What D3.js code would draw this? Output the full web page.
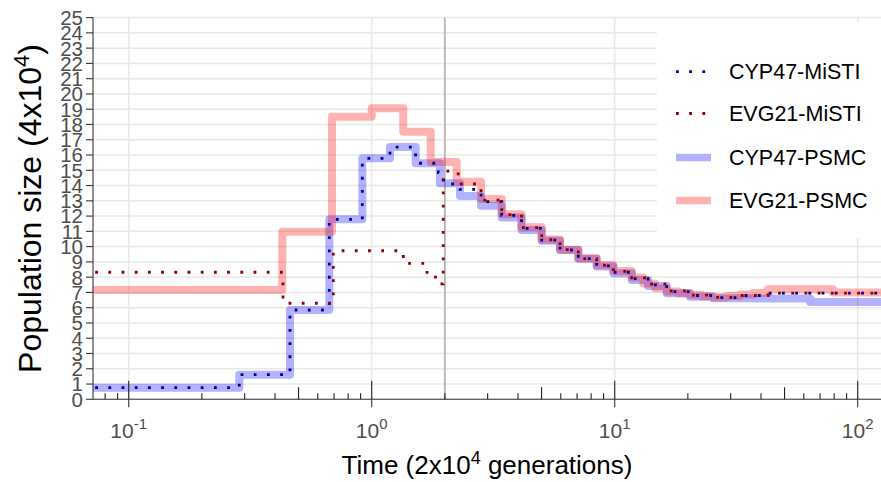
<!DOCTYPE html>
<html>
<head>
<meta charset="utf-8">
<script src="https://cdn.jsdelivr.net/npm/d3@7"></script>
<style>
  body { margin: 0; background: #fff; }
  svg { display: block; }
  text { font-family: "Liberation Sans", Arial, Helvetica, sans-serif; }
</style>
</head>
<body>
<svg id="chart" width="881" height="482"></svg>
<script>
// Axis ticks
const timeTickValues = [0.1, 1, 10, 100];
const timeTickExponents = ["-1", "0", "1", "2"];
const sizeTickValues = d3.range(0, 26);
const splitTime = 2;

// Series: step start times (2x10^4 generations) and population sizes (4x10^4)
const cyp47PsmcTime = [0.05, 0.285, 0.461, 0.669, 0.915, 1.189, 1.517, 1.908, 2.309, 2.818, 3.428, 4.135, 5.008, 5.956, 7.085, 8.43, 9.87, 11.75, 13.71, 16.37, 20.4, 25.38, 37.07, 63.65];
const cyp47PsmcSize = [0.76, 1.61, 5.85, 11.79, 15.78, 16.52, 15.46, 14.15, 13.32, 12.68, 11.91, 11.09, 10.39, 9.78, 9.2, 8.69, 8.26, 7.82, 7.42, 6.95, 6.72, 6.62, 6.6, 6.38];

const evg21PsmcTime = [0.05, 0.4286, 0.6865, 1.0, 1.349, 1.749, 2.238, 2.818, 3.428, 4.135, 5.008, 5.956, 7.085, 8.43, 9.87, 11.75, 13.12, 14.65, 16.37, 18.27, 20.4, 22.8, 25.38, 28.9, 32.78, 37.07, 42.74, 79.1];
const evg21PsmcSize = [7.16, 10.98, 18.51, 19.06, 17.53, 15.55, 14.25, 13.12, 12.12, 11.27, 10.46, 9.8, 9.24, 8.8, 8.4, 7.97, 7.58, 7.28, 7.06, 6.95, 6.84, 6.75, 6.69, 6.77, 6.86, 6.97, 7.2, 7.0];

const cyp47MistiTime = [0.05, 0.285, 0.461, 0.669, 0.915, 1.189, 1.517, 1.88, 1.97, 2.309, 2.818, 3.428, 4.135, 5.008, 5.956, 7.085, 8.43, 9.87, 11.75, 13.71, 16.37, 20.4, 25.38, 32.78, 42.74];
const cyp47MistiSize = [0.76, 1.61, 5.85, 11.79, 15.78, 16.52, 15.46, 14.85, 14.1, 13.75, 12.95, 12.05, 11.2, 10.42, 9.78, 9.22, 8.74, 8.32, 7.9, 7.5, 7.05, 6.8, 6.66, 6.8, 6.95];

const evg21MistiTime = [0.05, 0.4315, 0.695, 1.349, 1.69, 1.83, 1.97, 2.27, 2.818, 3.428, 4.135, 5.008, 5.956, 7.085, 8.43, 9.87, 11.75, 13.71, 16.37, 20.4, 25.38, 32.78, 42.74];
const evg21MistiSize = [8.32, 6.29, 9.73, 8.9, 8.15, 7.56, 14.95, 14.1, 13.05, 12.1, 11.25, 10.45, 9.8, 9.22, 8.78, 8.38, 7.95, 7.55, 7.1, 6.82, 6.68, 6.8, 6.95];

const seriesNames = ["CYP47-MiSTI", "EVG21-MiSTI", "CYP47-PSMC", "EVG21-PSMC"];

// Layout
const panel = { left: 93, right: 881, top: 17.6, bottom: 399.3 };
const endTime = 300;

const x = d3.scaleLog().domain([0.0713, 124.7]).range([panel.left, panel.right]);
const y = d3.scaleLinear().domain([0, 25]).range([panel.bottom, panel.top]);

const svg = d3.select("#chart");

svg.append("defs").append("clipPath").attr("id", "panel-clip")
  .append("rect")
  .attr("x", panel.left).attr("y", panel.top)
  .attr("width", panel.right - panel.left).attr("height", panel.bottom - panel.top);

// Grid
const gridColor = "#e8e8e8";
const grid = svg.append("g");
grid.selectAll("line.h").data(sizeTickValues).join("line")
  .attr("x1", panel.left).attr("x2", panel.right)
  .attr("y1", d => y(d)).attr("y2", d => y(d))
  .attr("stroke", gridColor).attr("stroke-width", 1.5);
grid.selectAll("line.v").data(timeTickValues).join("line")
  .attr("x1", d => x(d)).attr("x2", d => x(d))
  .attr("y1", panel.top).attr("y2", panel.bottom)
  .attr("stroke", gridColor).attr("stroke-width", 1.5);

// Divergence marker
svg.append("line")
  .attr("x1", x(splitTime)).attr("x2", x(splitTime))
  .attr("y1", panel.top).attr("y2", panel.bottom)
  .attr("stroke", "#b5b5b5").attr("stroke-width", 1.8);

// Step lines
function stepPoints(times, sizes) {
  const pts = times.map((t, i) => [t, sizes[i]]);
  pts.push([endTime, sizes[sizes.length - 1]]);
  return pts;
}
const stepLine = d3.line()
  .x(d => x(d[0])).y(d => y(d[1]))
  .curve(d3.curveStepAfter);

const plot = svg.append("g").attr("clip-path", "url(#panel-clip)");

plot.append("path")
  .attr("d", stepLine(stepPoints(cyp47PsmcTime, cyp47PsmcSize)))
  .attr("fill", "none").attr("stroke", "blue").attr("stroke-opacity", 0.3)
  .attr("stroke-width", 8).attr("stroke-linejoin", "round");
plot.append("path")
  .attr("d", stepLine(stepPoints(evg21PsmcTime, evg21PsmcSize)))
  .attr("fill", "none").attr("stroke", "red").attr("stroke-opacity", 0.3)
  .attr("stroke-width", 8).attr("stroke-linejoin", "round");
plot.append("path")
  .attr("d", stepLine(stepPoints(cyp47MistiTime, cyp47MistiSize)))
  .attr("fill", "none").attr("stroke", "#00008b")
  .attr("stroke-width", 2.8).attr("stroke-dasharray", "2.8 10.4");
plot.append("path")
  .attr("d", stepLine(stepPoints(evg21MistiTime, evg21MistiSize)))
  .attr("fill", "none").attr("stroke", "#8b0000")
  .attr("stroke-width", 2.8).attr("stroke-dasharray", "2.8 10.4");

// Log ticks along the bottom of the panel
const logTicks = [];
[0.01, 0.1, 1, 10, 100].forEach(dec => {
  for (let k = 1; k <= 9; k++) {
    const t = dec * k;
    if (t >= x.domain()[0] && t <= x.domain()[1]) logTicks.push({ t, len: k === 1 ? 18.5 : (k === 5 ? 12 : 6) });
  }
});
svg.append("g").selectAll("line").data(logTicks).join("line")
  .attr("x1", d => x(d.t)).attr("x2", d => x(d.t))
  .attr("y1", panel.bottom).attr("y2", d => panel.bottom - d.len)
  .attr("stroke", "#222").attr("stroke-width", 1.1);

// Axes
const axisColor = "#333333";
const ax = svg.append("g");
ax.append("line").attr("x1", panel.left).attr("x2", panel.left)
  .attr("y1", panel.top).attr("y2", panel.bottom)
  .attr("stroke", axisColor).attr("stroke-width", 1.1);
ax.append("line").attr("x1", panel.left).attr("x2", panel.right)
  .attr("y1", panel.bottom).attr("y2", panel.bottom)
  .attr("stroke", axisColor).attr("stroke-width", 1.1);

ax.selectAll("line.yt").data(sizeTickValues).join("line")
  .attr("x1", panel.left - 7).attr("x2", panel.left)
  .attr("y1", d => y(d)).attr("y2", d => y(d))
  .attr("stroke", axisColor).attr("stroke-width", 1.1);
ax.selectAll("text.yl").data(sizeTickValues).join("text")
  .attr("x", panel.left - 10).attr("y", d => y(d))
  .attr("dy", "0.36em").attr("text-anchor", "end")
  .attr("font-size", 20.5).attr("fill", "#4d4d4d")
  .text(d => d);

ax.selectAll("line.xt").data(timeTickValues).join("line")
  .attr("x1", d => x(d)).attr("x2", d => x(d))
  .attr("y1", panel.bottom).attr("y2", panel.bottom + 8)
  .attr("stroke", axisColor).attr("stroke-width", 1.1);
const xl = ax.selectAll("text.xl").data(timeTickValues).join("text")
  .attr("x", d => x(d)).attr("y", 438)
  .attr("text-anchor", "middle").attr("font-size", 21).attr("fill", "#4d4d4d");
xl.append("tspan").text("10");
xl.append("tspan").attr("dy", -9).attr("font-size", 15).text((d, i) => timeTickExponents[i]);

// Axis titles
const xt = svg.append("text").attr("x", (panel.left + panel.right) / 2).attr("y", 474)
  .attr("text-anchor", "middle").attr("font-size", 26).attr("fill", "#000");
xt.append("tspan").text("Time (2x10");
xt.append("tspan").attr("dy", -10).attr("font-size", 18).text("4");
xt.append("tspan").attr("dy", 10).text(" generations)");

const yt = svg.append("text")
  .attr("transform", `translate(41,${(panel.top + panel.bottom) / 2}) rotate(-90)`)
  .attr("text-anchor", "middle").attr("font-size", 32).attr("fill", "#000");
yt.append("tspan").text("Population size (4x10");
yt.append("tspan").attr("dy", -12).attr("font-size", 22).text("4");
yt.append("tspan").attr("dy", 12).text(")");

// Legend
const legend = svg.append("g");
legend.append("rect").attr("x", 657).attr("y", 22).attr("width", 230).attr("height", 216).attr("fill", "#fff");
const keyY = [71.7, 113.5, 157.5, 200.5];
const keyStyles = [
  { color: "#00008b", dotted: true },
  { color: "#8b0000", dotted: true },
  { color: "blue", dotted: false },
  { color: "red", dotted: false }
];
seriesNames.forEach((name, i) => {
  const s = keyStyles[i];
  const line = legend.append("line")
    .attr("x1", 676).attr("x2", 711).attr("y1", keyY[i]).attr("y2", keyY[i])
    .attr("stroke", s.color);
  if (s.dotted) line.attr("stroke-width", 2.8).attr("stroke-dasharray", "2.8 10.4");
  else line.attr("stroke-width", 7.5).attr("stroke-opacity", 0.3);
  legend.append("text").attr("x", 729).attr("y", keyY[i]).attr("dy", "0.36em")
    .attr("font-size", 21.5).attr("fill", "#000").text(name);
});
</script>
</body>
</html>
